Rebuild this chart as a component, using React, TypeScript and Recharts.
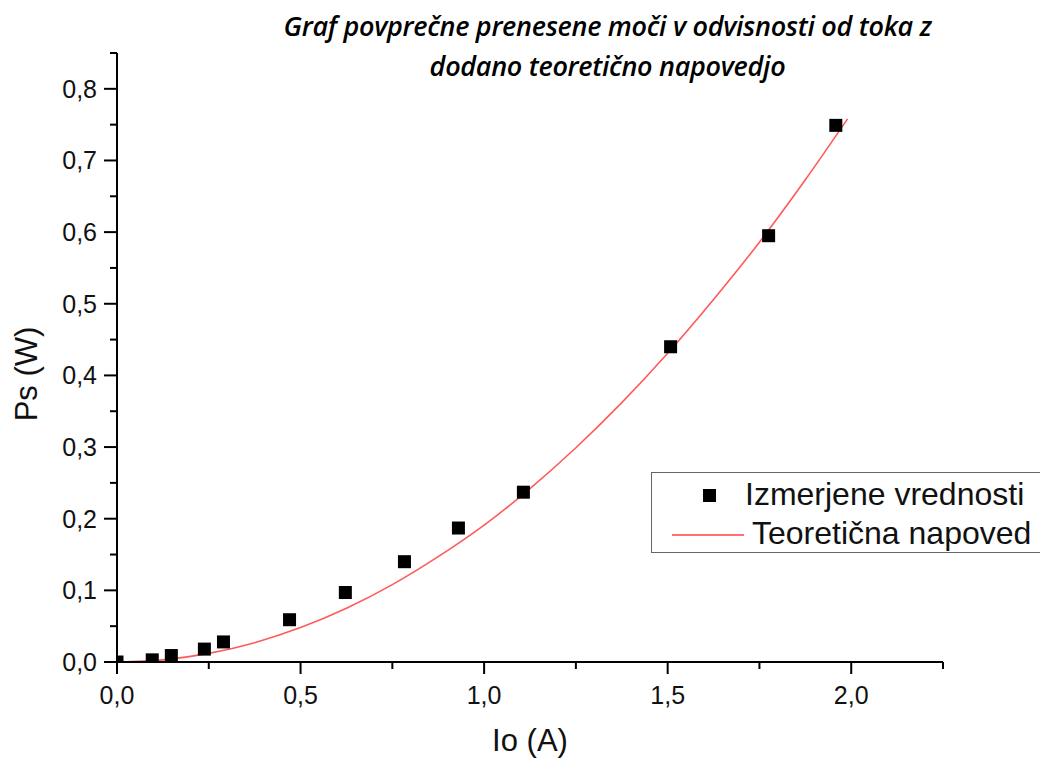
import React from "react";
import { ComposedChart, Line, Scatter, XAxis, YAxis } from "recharts";

document.body.style.margin = "0";

// measured points (Io in A, Ps in W)
const measuredIo = [0, 0.096, 0.148, 0.238, 0.29, 0.47, 0.622, 0.783, 0.93, 1.107, 1.508, 1.775, 1.958];
const measuredPs = [0, 0.003, 0.009, 0.018, 0.028, 0.059, 0.097, 0.14, 0.187, 0.237, 0.44, 0.595, 0.749];

// theoretical curve
const curveIo = [0, 0.125, 0.25, 0.375, 0.5, 0.625, 0.75, 0.875, 1.0, 1.125, 1.25, 1.375, 1.5, 1.625, 1.75, 1.875, 1.99];
const curvePs = [0, 0.003, 0.012, 0.027, 0.048, 0.075, 0.108, 0.147, 0.191, 0.242, 0.299, 0.362, 0.431, 0.506, 0.586, 0.673, 0.758];

const xTicks = [0, 0.25, 0.5, 0.75, 1.0, 1.25, 1.5, 1.75, 2.0, 2.25];
const yTicks = [0, 0.05, 0.1, 0.15, 0.2, 0.25, 0.3, 0.35, 0.4, 0.45, 0.5, 0.55, 0.6, 0.65, 0.7, 0.75, 0.8, 0.85];

const measured = measuredIo.map((x, i) => ({ x, y: measuredPs[i] }));
const curve = curveIo.map((x, i) => ({ x, y: curvePs[i] }));

const fmt = (v: number) => v.toFixed(1).replace(".", ",");
const isMajor = (v: number, step: number) => Math.abs(v / step - Math.round(v / step)) < 1e-6;

const XTick = (props: any) => {
  const { x, y, payload } = props;
  const major = isMajor(payload.value, 0.5);
  return (
    <g>
      <line x1={x} y1={y} x2={x} y2={y + (major ? 12 : 7)} stroke="#000" strokeWidth={2} />
      {major && (
        <text x={x} y={y + 42} textAnchor="middle" fontSize={25} fill="#111" fontFamily="Liberation Sans, Arial, sans-serif">
          {fmt(payload.value)}
        </text>
      )}
    </g>
  );
};

const YTick = (props: any) => {
  const { x, y, payload } = props;
  const major = isMajor(payload.value, 0.1);
  return (
    <g>
      <line x1={x} y1={y} x2={x - (major ? 13 : 7)} y2={y} stroke="#000" strokeWidth={2} />
      {major && (
        <text x={x - 20} y={y + 9} textAnchor="end" fontSize={25} fill="#111" fontFamily="Liberation Sans, Arial, sans-serif">
          {fmt(payload.value)}
        </text>
      )}
    </g>
  );
};

const Square = (props: any) => {
  const { cx, cy } = props;
  return <rect x={cx - 6.5} y={cy - 6.5} width={13} height={13} fill="#000" />;
};

const App = () => {
  return (
    <div style={{ position: "relative", width: 1040, height: 760, overflow: "hidden", background: "#fff" }}>
      <ComposedChart width={1040} height={760} margin={{ top: 53, right: 97, left: 37, bottom: 38 }}>
        <XAxis
          type="number"
          dataKey="x"
          domain={[0, 2.25]}
          ticks={xTicks}
          interval={0}
          tickSize={0}
          tickMargin={0}
          tickLine={false}
          tick={<XTick />}
          height={60}
          allowDataOverflow
          axisLine={{ stroke: "#000", strokeWidth: 2 }}
        />
        <YAxis
          type="number"
          dataKey="y"
          domain={[0, 0.85]}
          ticks={yTicks}
          interval={0}
          tickSize={0}
          tickMargin={0}
          tickLine={false}
          tick={<YTick />}
          width={80}
          allowDataOverflow
          axisLine={{ stroke: "#000", strokeWidth: 2 }}
        />
        <Line
          data={curve}
          dataKey="y"
          type="monotone"
          stroke="#ff5a5a"
          strokeWidth={1.6}
          dot={false}
          isAnimationActive={false}
        />
        <Scatter data={measured} dataKey="y" fill="#000" shape={<Square />} isAnimationActive={false} />
      </ComposedChart>

      <div
        style={{
          position: "absolute",
          left: 0,
          width: 1215,
          top: 6,
          textAlign: "center",
          fontFamily: "'Open Sans', Lato, sans-serif",
          fontStyle: "italic",
          fontWeight: 600,
          fontSize: 27,
          lineHeight: "40px",
          letterSpacing: -0.3,
          color: "#000",
        }}
      >
        Graf povprečne prenesene moči v odvisnosti od toka z
        <br />
        dodano teoretično napovedjo
      </div>

      <div
        style={{
          position: "absolute",
          left: 27,
          top: 374,
          transform: "translate(-50%, -50%) rotate(-90deg)",
          fontFamily: "Liberation Sans, Arial, sans-serif",
          fontSize: 31,
          whiteSpace: "nowrap",
          color: "#111",
        }}
      >
        Ps (W)
      </div>

      <div
        style={{
          position: "absolute",
          left: 530,
          top: 741,
          transform: "translate(-50%, -50%)",
          fontFamily: "Liberation Sans, Arial, sans-serif",
          fontSize: 31,
          whiteSpace: "nowrap",
          color: "#111",
        }}
      >
        Io (A)
      </div>

      <div
        style={{
          position: "absolute",
          left: 651,
          top: 472,
          width: 420,
          height: 81,
          border: "1.5px solid #666",
          boxSizing: "border-box",
          fontFamily: "Liberation Sans, Arial, sans-serif",
          fontSize: 32,
          color: "#111",
        }}
      >
        <div style={{ position: "absolute", left: 51, top: 16, width: 13, height: 13, background: "#000" }} />
        <div style={{ position: "absolute", left: 93, top: 3, whiteSpace: "nowrap", lineHeight: "36px" }}>Izmerjene vrednosti</div>
        <div style={{ position: "absolute", left: 20, top: 61, width: 72, height: 2, background: "#ff7070" }} />
        <div style={{ position: "absolute", left: 100, top: 42, whiteSpace: "nowrap", lineHeight: "36px" }}>Teoretična napoved</div>
      </div>
    </div>
  );
};

export default App;
